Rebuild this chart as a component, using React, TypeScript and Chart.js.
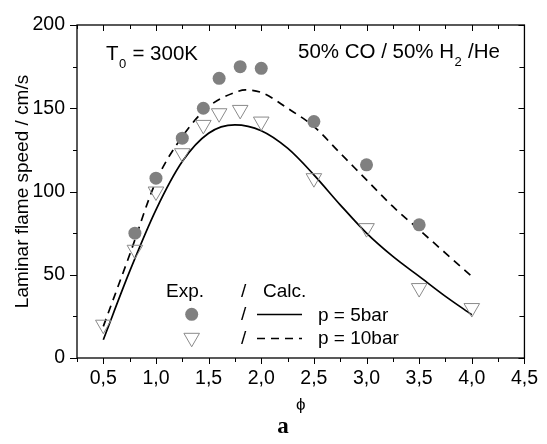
import React, { useEffect, useRef } from 'react';
import { Chart, registerables } from 'chart.js';

Chart.register(...registerables);

// Experimental data (p = 5 bar: filled circles)
const expPhi5 = [0.8, 1.0, 1.25, 1.45, 1.6, 1.8, 2.0, 2.5, 3.0, 3.5];
const expSpeed5 = [75, 108, 132, 150, 168, 175, 174, 142, 116, 80];
// Experimental data (p = 10 bar: open triangles)
const expPhi10 = [0.5, 0.8, 1.0, 1.25, 1.45, 1.6, 1.8, 2.0, 2.5, 3.0, 3.5, 4.0];
const expSpeed10 = [20, 65, 100, 123, 140, 147, 149, 142, 108, 78, 42, 30];
// Calculated curves
const calcPhi5 = [0.5, 0.75, 1.0, 1.25, 1.5, 1.75, 2.0, 2.25, 2.5, 2.75, 3.0, 3.25, 3.5, 3.75, 4.0];
const calcSpeed5 = [11, 52, 89, 118, 135, 140, 136.5, 126, 110, 92, 75, 61, 49, 37, 26];
const calcPhi10 = [0.5, 0.75, 1.0, 1.25, 1.5, 1.75, 1.85, 2.0, 2.25, 2.5, 2.75, 3.0, 3.25, 3.5, 3.75, 4.0];
const calcSpeed10 = [19, 62, 106, 133, 151, 159.5, 161, 159.5, 150, 139, 123, 107, 91, 77, 63, 49];

const xMajorTicks = [0.5, 1.0, 1.5, 2.0, 2.5, 3.0, 3.5, 4.0, 4.5];
const xMinorTicks = [0.25, 0.75, 1.25, 1.75, 2.25, 2.75, 3.25, 3.75, 4.25];
const yMajorTicks = [0, 50, 100, 150, 200];
const yMinorTicks = [25, 75, 125, 175];

const xMin = 0.25;
const xMax = 4.5;
const yMin = 0;
const yMax = 200;

const yTitle = 'Laminar flame speed / cm/s';
const xTitle = 'ϕ';
const panelLabel = 'a';
const legendExp = 'Exp.';
const legendCalc = 'Calc.';
const legend5 = 'p = 5bar';
const legend10 = 'p = 10bar';

const SANS = '"Liberation Sans", Arial, sans-serif';
const CIRCLE_COLOR = '#808080';
const TRI_COLOR = '#8a8a8a';

const toPts = (xs: number[], ys: number[]) => xs.map((x, i) => ({ x, y: ys[i] }));

function drawTriangle(ctx: CanvasRenderingContext2D, x: number, y: number, r: number) {
  ctx.beginPath();
  ctx.moveTo(x, y + r);
  ctx.lineTo(x - r * Math.sin(Math.PI / 3), y - r / 2);
  ctx.lineTo(x + r * Math.sin(Math.PI / 3), y - r / 2);
  ctx.closePath();
  ctx.strokeStyle = TRI_COLOR;
  ctx.lineWidth = 1;
  ctx.stroke();
}

const decorPlugin = {
  id: 'decor',
  afterDraw(chart: any) {
    const { ctx, chartArea } = chart;
    const { left, right, top, bottom } = chartArea;
    const xs = chart.scales.x;
    const ys = chart.scales.y;
    ctx.save();
    ctx.strokeStyle = '#000';
    ctx.lineWidth = 1.3;
    ctx.strokeRect(left, top, right - left, bottom - top);

    ctx.lineWidth = 1;
    ctx.beginPath();
    const seg = (x1: number, y1: number, x2: number, y2: number) => {
      ctx.moveTo(x1, y1);
      ctx.lineTo(x2, y2);
    };
    xMajorTicks.forEach((v) => {
      const px = Math.round(xs.getPixelForValue(v)) + 0.5;
      seg(px, bottom, px, bottom + 6);
      seg(px, top, px, top + 6);
    });
    xMinorTicks.forEach((v) => {
      const px = Math.round(xs.getPixelForValue(v)) + 0.5;
      seg(px, bottom, px, bottom + 4);
      seg(px, top, px, top + 4);
    });
    yMajorTicks.forEach((v) => {
      const py = Math.round(ys.getPixelForValue(v)) + 0.5;
      seg(left, py, left - 7, py);
      seg(right, py, right - 6, py);
    });
    yMinorTicks.forEach((v) => {
      const py = Math.round(ys.getPixelForValue(v)) + 0.5;
      seg(left, py, left - 4, py);
      seg(right, py, right - 5, py);
    });
    ctx.stroke();

    // Annotations
    ctx.fillStyle = '#000';
    ctx.textBaseline = 'alphabetic';
    ctx.textAlign = 'left';
    const big = `20.5px ${SANS}`;
    const small = `13px ${SANS}`;
    let x = 106;
    ctx.font = big;
    ctx.fillText('T', x, 60);
    x += ctx.measureText('T').width;
    ctx.font = small;
    ctx.fillText('0', x + 0.5, 68);
    x += ctx.measureText('0').width + 1;
    ctx.font = big;
    ctx.fillText(' = 300K', x, 60);

    x = 298;
    ctx.font = big;
    ctx.fillText('50% CO / 50% H', x, 58);
    x += ctx.measureText('50% CO / 50% H').width;
    ctx.font = small;
    ctx.fillText('2', x + 0.5, 66);
    x += ctx.measureText('2').width + 1;
    ctx.font = big;
    ctx.fillText(' /He', x, 58);

    // Legend
    const leg = `19px ${SANS}`;
    ctx.font = leg;
    ctx.fillText(legendExp, 166, 297);
    ctx.fillText('/', 241, 297);
    ctx.fillText(legendCalc, 263, 297);
    ctx.fillText('/', 241, 320);
    ctx.fillText('/', 241, 344);
    ctx.fillText(legend5, 318, 321);
    ctx.fillText(legend10, 318, 344);

    ctx.beginPath();
    ctx.arc(191.7, 314.3, 6.5, 0, Math.PI * 2);
    ctx.fillStyle = CIRCLE_COLOR;
    ctx.fill();
    drawTriangle(ctx, 191.7, 337.8, 9);

    ctx.strokeStyle = '#000';
    ctx.lineWidth = 1.5;
    ctx.beginPath();
    ctx.moveTo(257, 314.5);
    ctx.lineTo(302, 314.5);
    ctx.stroke();
    ctx.setLineDash([8, 6]);
    ctx.beginPath();
    ctx.moveTo(257, 338.5);
    ctx.lineTo(302, 338.5);
    ctx.stroke();
    ctx.setLineDash([]);

    // Panel label
    ctx.fillStyle = '#000';
    ctx.font = `bold 23px "Liberation Serif", "Times New Roman", serif`;
    ctx.textAlign = 'center';
    ctx.textBaseline = 'alphabetic';
    ctx.fillText(panelLabel, 283, 433);
    ctx.restore();
  },
};

export default function App() {
  const canvasRef = useRef<HTMLCanvasElement | null>(null);

  useEffect(() => {
    if (!canvasRef.current) return;
    const chart = new Chart(canvasRef.current, {
      type: 'scatter',
      data: {
        datasets: [
          {
            label: 'Exp. p = 5bar',
            data: toPts(expPhi5, expSpeed5),
            pointStyle: 'circle',
            pointRadius: 6.5,
            pointBackgroundColor: CIRCLE_COLOR,
            pointBorderColor: CIRCLE_COLOR,
            pointBorderWidth: 0,
            showLine: false,
          },
          {
            label: 'Exp. p = 10bar',
            data: toPts(expPhi10, expSpeed10),
            pointStyle: 'triangle',
            pointRotation: 180,
            pointRadius: 9,
            pointBackgroundColor: 'rgba(0,0,0,0)',
            pointBorderColor: TRI_COLOR,
            pointBorderWidth: 1,
            showLine: false,
          },
          {
            label: 'Calc. p = 5bar',
            data: toPts(calcPhi5, calcSpeed5),
            showLine: true,
            pointRadius: 0,
            borderColor: '#000',
            borderWidth: 1.7,
            cubicInterpolationMode: 'monotone',
            fill: false,
          },
          {
            label: 'Calc. p = 10bar',
            data: toPts(calcPhi10, calcSpeed10),
            showLine: true,
            pointRadius: 0,
            borderColor: '#000',
            borderWidth: 1.7,
            borderDash: [8, 6],
            cubicInterpolationMode: 'monotone',
            fill: false,
          },
        ],
      } as any,
      options: {
        animation: false,
        responsive: false,
        maintainAspectRatio: false,
        layout: { padding: { top: 25, right: 16, bottom: 0, left: 0 } },
        plugins: {
          legend: { display: false },
          tooltip: { enabled: false },
        },
        scales: {
          x: {
            type: 'linear',
            min: xMin,
            max: xMax,
            afterBuildTicks: (scale: any) => {
              scale.ticks = xMajorTicks.map((v) => ({ value: v }));
            },
            afterFit: (scale: any) => {
              scale.height = 86;
            },
            grid: { display: false, drawTicks: false },
            border: { display: false },
            ticks: {
              color: '#000',
              font: { family: SANS, size: 19.5 },
              padding: 9,
              maxRotation: 0,
              autoSkip: false,
              callback: (v: any) => Number(v).toFixed(1).replace('.', ','),
            },
            title: {
              display: true,
              text: xTitle,
              color: '#000',
              font: { family: SANS, size: 17 },
              padding: { top: 0, bottom: 28 },
            },
          },
          y: {
            type: 'linear',
            min: yMin,
            max: yMax,
            afterBuildTicks: (scale: any) => {
              scale.ticks = yMajorTicks.map((v) => ({ value: v }));
            },
            afterFit: (scale: any) => {
              scale.width = 77;
            },
            grid: { display: false, drawTicks: false },
            border: { display: false },
            ticks: {
              color: '#000',
              font: { family: SANS, size: 19.5 },
              padding: 12,
              autoSkip: false,
              callback: (v: any) => String(v),
            },
            title: {
              display: true,
              text: yTitle,
              color: '#000',
              font: { family: SANS, size: 19 },
              padding: { top: 11, bottom: 0 },
            },
          },
        },
      } as any,
      plugins: [decorPlugin],
    });
    return () => chart.destroy();
  }, []);

  return (
    <div style={{ position: 'absolute', left: 0, top: 0, width: 547, height: 444, background: '#fff' }}>
      <canvas ref={canvasRef} width={547} height={444} style={{ display: 'block' }} />
    </div>
  );
}
